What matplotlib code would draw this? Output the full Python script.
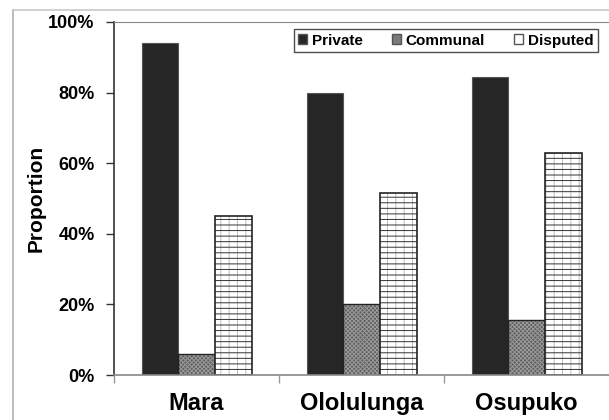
import numpy as np
import matplotlib
matplotlib.use("Agg")
import matplotlib.pyplot as plt
from matplotlib.patches import Patch
from matplotlib.ticker import PercentFormatter

plt.rcParams['font.family'] = ['Liberation Sans', 'DejaVu Sans']
plt.rcParams['font.weight'] = 'bold'
plt.rcParams['hatch.linewidth'] = 0.7

regions = ["Mara", "Ololulunga", "Osupuko"]
private = [94, 80, 84.5]
communal = [6, 20, 15.5]
disputed = [45, 51.5, 63]

fig = plt.figure(figsize=(6.09, 4.2), dpi=100)
ax = fig.add_axes([114 / 609, 45 / 420, 1 - 114 / 609, 353 / 420])
# light outer frame of the original chart area
fig.add_artist(plt.Line2D([13 / 609, 13 / 609], [0, 1 - 10 / 420], transform=fig.transFigure,
                          color="#b0b0b0", linewidth=1.2))
fig.add_artist(plt.Line2D([13 / 609, 1], [1 - 10 / 420, 1 - 10 / 420], transform=fig.transFigure,
                          color="#c8c8c8", linewidth=1.2))

x = np.arange(len(regions))
w = 1 / 4.5

# private
ax.bar(x - w, private, w, color="#262626", edgecolor="#555555", linewidth=0.8)

# communal: grey dither look
ax.bar(x, communal, w, color="#5e5e5e", edgecolor="#9a9a9a", hatch="xxxxxxxx", linewidth=0)
ax.bar(x, communal, w, fill=False, edgecolor="#222222", linewidth=1)

# disputed: white with horizontal dotted and vertical grey lines
ax.bar(x + w, disputed, w, color="white", edgecolor="#bbbbbb", hatch="||", linewidth=0)
ax.bar(x + w, disputed, w, fill=False, edgecolor="#333333", hatch="---", linewidth=0)
ax.bar(x + w, disputed, w, fill=False, edgecolor="#222222", linewidth=1.2)

ax.set_xlim(-0.5, 2.5)
ax.set_ylim(0, 100)
ax.set_yticks([0, 20, 40, 60, 80, 100])
ax.yaxis.set_major_formatter(PercentFormatter(decimals=0))
ax.set_xticks(x)
ax.set_xticklabels(regions, fontsize=17, fontweight="bold")
ax.set_xticks([-0.5, 0.5, 1.5], minor=True)
ax.tick_params(axis="x", which="major", length=0, pad=12)
ax.tick_params(axis="x", which="minor", length=6, color="#999999", width=1)
ax.tick_params(axis="y", labelsize=13, length=6, width=1, color="#333333", pad=8)
ax.set_ylabel("Proportion", fontsize=15, fontweight="bold", labelpad=2)

ax.spines["left"].set_color("#333333")
ax.spines["left"].set_linewidth(1.2)
ax.spines["bottom"].set_color("#888888")
ax.spines["bottom"].set_linewidth(1.2)
ax.spines["top"].set_color("#888888")
ax.spines["right"].set_visible(False)

handles = [
    Patch(facecolor="#262626", edgecolor="#555555", label="Private"),
    Patch(facecolor="#7a7a7a", edgecolor="#555555", label="Communal"),
    Patch(facecolor="white", edgecolor="#555555", label="Disputed"),
]
leg = ax.legend(handles=handles, loc="upper right", bbox_to_anchor=(598 / 609, 1 - 29 / 420),
                bbox_transform=fig.transFigure, ncol=3, fontsize=11,
                frameon=True, fancybox=False, handlelength=0.6, handleheight=0.6,
                handletextpad=0.3, columnspacing=1.9, borderpad=0.3, borderaxespad=0)
leg.get_frame().set_edgecolor("#222222")
leg.get_frame().set_linewidth(1)

fig.savefig("out.png", dpi=100)
